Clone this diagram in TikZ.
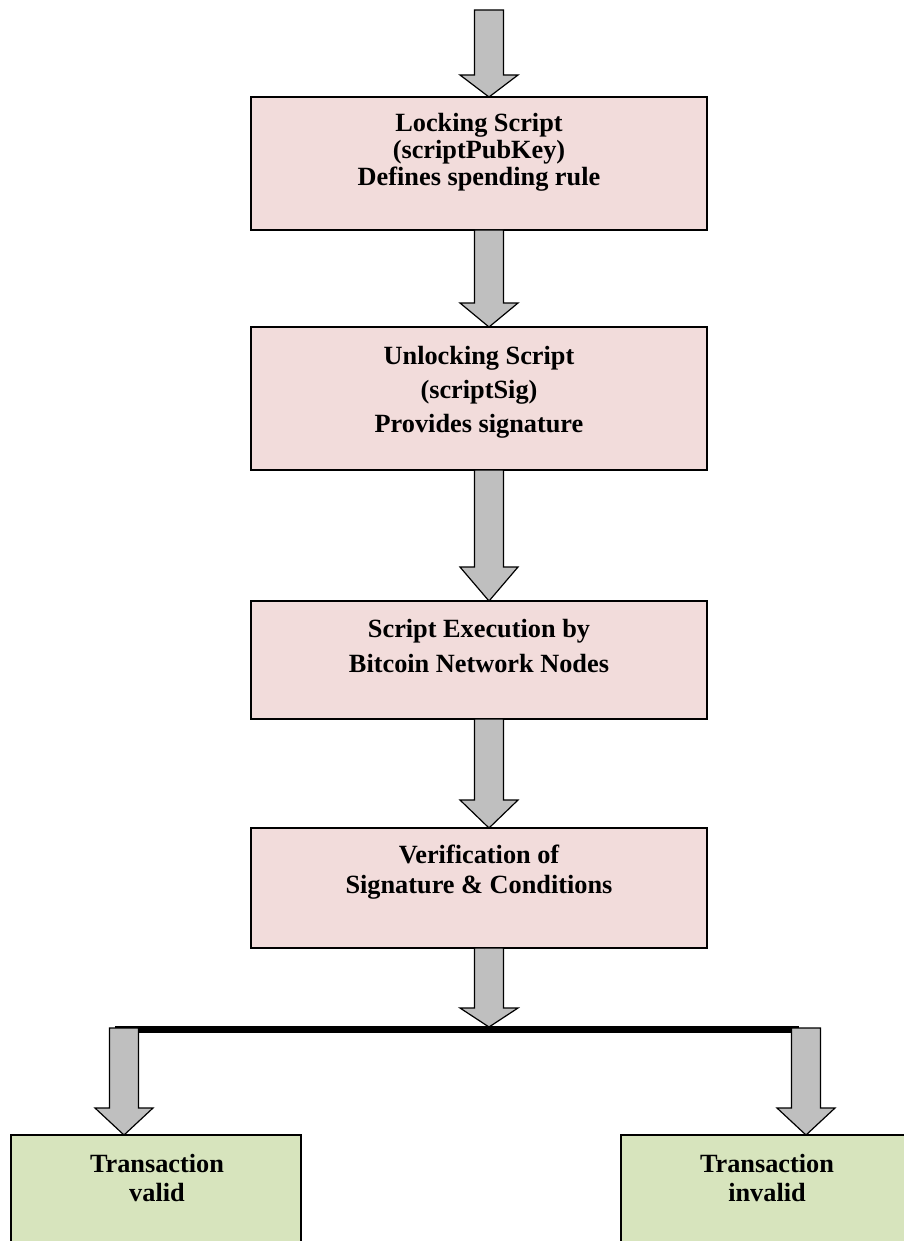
\documentclass[tikz,border=0pt]{standalone}
\usepackage{fontspec}
\setmainfont{Liberation Serif}
\usetikzlibrary{calc}

\definecolor{stepfill}{HTML}{F2DCDB}
\definecolor{resultfill}{HTML}{D7E4BD}
\definecolor{arrowgray}{HTML}{BFBFBF}

% stacked, centred lines whose first baseline is the node's baseline
\newcommand\linestack[2]{{\renewcommand\arraystretch{#1}\begin{tabular}[t]{@{}c@{}}#2\end{tabular}}}

\tikzset{
  stepbox/.style={draw=black, line width=1.3pt, fill=stepfill, inner sep=0pt, outer sep=0pt,
    minimum width=456pt},
  resultbox/.style={draw=black, line width=1.3pt, fill=resultfill, inner sep=0pt, outer sep=0pt,
    minimum width=290pt, minimum height=170pt},
  label text/.style={font=\bfseries\fontsize{26.3}{26}\selectfont, inner sep=0pt, anchor=base},
  blockarrow/.style={draw=black, line width=1.2pt, fill=arrowgray, line join=miter,
    to path={let \p1=(\tikztostart), \p2=(\tikztotarget) in
      (\x1-14.5pt,\y1) -- (\x1+14.5pt,\y1) -- (\x1+14.5pt,\y2+#1) -- (\x1+29pt,\y2+#1)
      -- (\x1,\y2) -- (\x1-29pt,\y2+#1) -- (\x1-14.5pt,\y2+#1) -- cycle}},
}

\begin{document}
\begin{tikzpicture}[x=1pt, y=-1pt]
  \useasboundingbox (0,0) rectangle (904,1241);
  \clip (0,0) rectangle (904,1241);
  \fill[white] (0,0) rectangle (904,1241);

  % process steps
  \node[stepbox, minimum height=133pt] (lock)   at (479,163.5) {};
  \node[stepbox, minimum height=143pt] (unlock) at (479,398.5) {};
  \node[stepbox, minimum height=118pt] (exec)   at (479,660) {};
  \node[stepbox, minimum height=120pt] (verify) at (479,888) {};

  \node[label text] (lockT)   at (479,132) {\linestack{1.02}{Locking Script\\(scriptPubKey)\\Defines spending rule}};
  \node[label text] (unlockT) at (479,364) {\linestack{1.31}{Unlocking Script\\(scriptSig)\\Provides signature}};
  \node[label text] (execT)   at (479,637) {\linestack{1.35}{Script Execution by\\Bitcoin Network Nodes}};
  \node[label text] (verifyT) at (479,863) {\linestack{1.19}{Verification of\\Signature \& Conditions}};

  % outcomes
  \node[resultbox] (valid)   at (156,1220) {};
  \node[resultbox] (invalid) at (766,1220) {};
  \node[label text] (validT)   at (157,1172) {\linestack{1.12}{Transaction\\valid}};
  \node[label text] (invalidT) at (767,1172) {\linestack{1.12}{Transaction\\invalid}};

  % flow axis and split bar
  \coordinate (src)   at (489,10);
  \coordinate (barL)  at (115,1029.5);
  \coordinate (barR)  at (799,1029.5);
  \coordinate (barC)  at (489,1027);
  \coordinate (leftS)  at (124,1028);
  \coordinate (rightS) at (806,1028);

  \draw[line width=7pt] (barL) -- (barR);

  \draw[blockarrow=22pt] (src) to (lock.north -| src);
  \draw[blockarrow=24pt] (lock.south -| src) to (unlock.north -| src);
  \draw[blockarrow=34pt] (unlock.south -| src) to (exec.north -| src);
  \draw[blockarrow=28pt] (exec.south -| src) to (verify.north -| src);
  \draw[blockarrow=19pt] (verify.south -| src) to (barC);
  \draw[blockarrow=27pt] (leftS) to (valid.north -| leftS);
  \draw[blockarrow=27pt] (rightS) to (invalid.north -| rightS);
\end{tikzpicture}
\end{document}
